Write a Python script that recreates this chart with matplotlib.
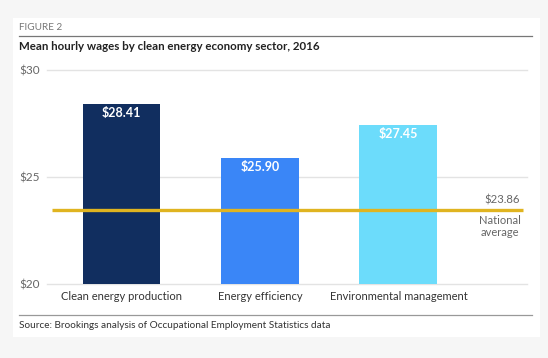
import matplotlib.pyplot as plt
from matplotlib.patches import Rectangle
from matplotlib.lines import Line2D

sectors = ["Clean energy production", "Energy efficiency", "Environmental management"]
wages = [28.41, 25.90, 27.45]
bar_colors = ["#112e5f", "#3a86f7", "#6cdcfb"]
national_avg = 23.86
avg_line_level = 23.45  # where the reference draws the line
yticks = [20, 25, 30]

W, H = 548, 358
fig = plt.figure(figsize=(W / 100, H / 100), dpi=100)
fig.patch.set_facecolor("#f6f6f6")
plt.rcParams['font.family'] = ['Lato', 'DejaVu Sans']

def fx(px):
    return px / W

def fy(py):
    return 1 - py / H

# white card
fig.patches.append(Rectangle((fx(13), fy(337)), fx(540) - fx(13), fy(18) - fy(337),
                             transform=fig.transFigure, facecolor="white", edgecolor="none", zorder=-5))
fig.add_artist(Line2D([fx(19), fx(532)], [fy(36), fy(36)], color="#777777", lw=0.9))
fig.add_artist(Line2D([fx(19), fx(532)], [fy(315), fy(315)], color="#999999", lw=0.9))
fig.text(fx(19), fy(27), "FIGURE 2", fontsize=7.2, color="#777777", va="center")
fig.text(fx(19), fy(47), "Mean hourly wages by clean energy economy sector, 2016",
         fontsize=8.25, fontweight="bold", color="#222222", va="center")
fig.text(fx(19), fy(325.5), "Source: Brookings analysis of Occupational Employment Statistics data",
         fontsize=7.2, color="#333333", va="center")

ax = fig.add_axes([fx(47), fy(284), fx(527) - fx(47), fy(70) - fy(284)])
ax.set_facecolor("none")
x = list(range(len(sectors)))
bars = ax.bar(x, [w - 20 for w in wages], bottom=20, width=0.563, color=bar_colors, zorder=2)
for xi, w in zip(x, wages):
    ax.text(xi, w - 0.42, f"${w:.2f}", ha="center", va="center", color="white",
            fontsize=9, fontweight="bold", zorder=4)

ax.set_xlim(-0.538, 2.928)
ax.set_ylim(20, 30)
for t in yticks:
    ax.axhline(t, color="#e3e3e3", lw=1.0, zorder=1, clip_on=False)
ax.set_yticks(yticks)
ax.set_yticklabels([f"${t}" for t in yticks])
ax.tick_params(axis="y", length=0, pad=5, labelsize=8.5, labelcolor="#666666")
ax.set_xticks(x)
ax.set_xticklabels(sectors)
ax.tick_params(axis="x", length=0, pad=5, labelsize=8, labelcolor="#333333")
for s in ax.spines.values():
    s.set_visible(False)

ax.plot([-0.502, 2.899], [avg_line_level, avg_line_level], color="#e0b420", lw=2.4, zorder=3,
        solid_capstyle="butt")
ax.text(2.88, avg_line_level + 0.22, f"${national_avg:.2f}", ha="right", va="bottom",
        fontsize=8.2, color="#666666")
ax.text(2.885, avg_line_level - 0.22, "National\naverage", ha="right", va="top",
        fontsize=8, color="#666666", linespacing=1.15, multialignment="center")

fig.savefig("out.png", dpi=100, facecolor=fig.get_facecolor())
